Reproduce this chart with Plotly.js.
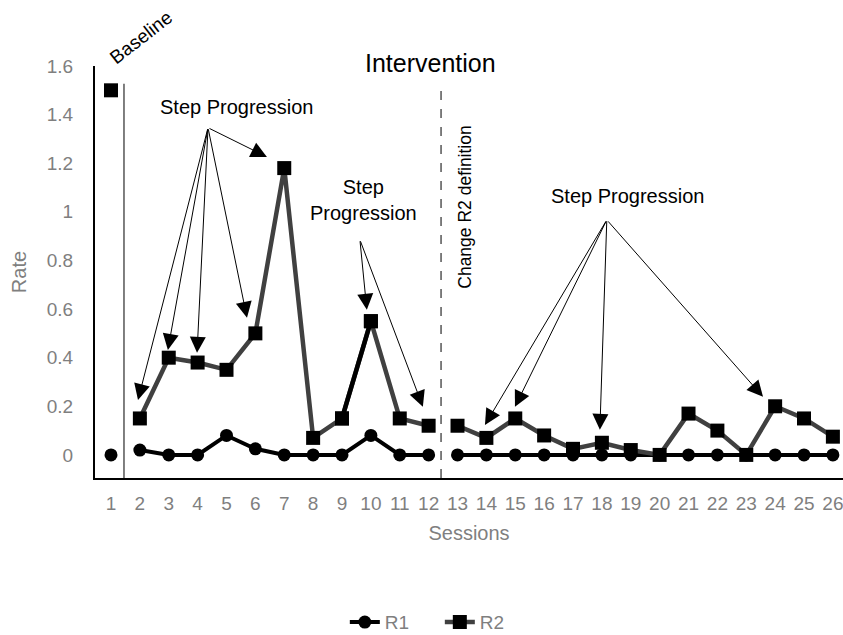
<!DOCTYPE html>
<html><head><meta charset="utf-8">
<script src="https://cdn.plot.ly/plotly-3.0.1.min.js"></script>
<style>html,body{margin:0;padding:0;background:#fff}#chart{width:843px;height:635px}</style>
</head><body><div id="chart"></div>
<script>
const sessions = [1,2,3,4,5,6,7,8,9,10,11,12,13,14,15,16,17,18,19,20,21,22,23,24,25,26];
const R1 = [0,0.02,0,0,0.08,0.025,0,0,0,0.08,0,0,0,0,0,0,0,0,0,0,0,0,0,0,0,0];
const R2 = [1.5,0.15,0.40,0.38,0.35,0.50,1.18,0.07,0.15,0.55,0.15,0.12,0.12,0.07,0.15,0.08,0.025,0.05,0.02,0,0.17,0.10,0,0.20,0.15,0.075];
// phases: index ranges [start, end)
const phases = [[0,1],[1,12],[12,26]];
const phaseLines = [1.45, 12.43];
const tickLabels = sessions.map(String);
const yTicks = [0,0.2,0.4,0.6,0.8,1,1.2,1.4,1.6];
const yTickLabels = ['0','0.2','0.4','0.6','0.8','1','1.2','1.4','1.6'];

// arrow annotations: [tailX, tailY, tipX, tipY]
const arrows = [
  [4.36,1.346,1.935,0.226],[4.36,1.346,2.97,0.432],[4.36,1.346,3.98,0.42],
  [4.36,1.346,5.71,0.564],[4.36,1.346,6.40,1.226],
  [9.62,0.885,9.86,0.597],[9.62,0.885,11.80,0.198],
  [18.17,0.967,13.95,0.123],[18.17,0.967,14.99,0.198],[18.17,0.967,17.93,0.103],[18.17,0.967,23.58,0.239]
];

const traces = [];
phases.forEach((p,i)=>{
  traces.push({x:sessions.slice(p[0],p[1]), y:R1.slice(p[0],p[1]), mode:'lines+markers', name:'R1',
    legendgroup:'R1', showlegend:i===0, line:{color:'#000',width:4},
    marker:{symbol:'circle',size:13,color:'#000'}});
});
phases.forEach((p,i)=>{
  traces.push({x:sessions.slice(p[0],p[1]), y:R2.slice(p[0],p[1]), mode:'lines+markers', name:'R2',
    legendgroup:'R2', showlegend:i===0, line:{color:'#404040',width:4.5},
    marker:{symbol:'square',size:14,color:'#000'}});
});
// black segment between sessions 9 and 10
traces.push({x:sessions.slice(8,10), y:R2.slice(8,10), mode:'lines+markers', showlegend:false,
  line:{color:'#000',width:4.5}, marker:{symbol:'square',size:14,color:'#000'}, hoverinfo:'skip'});

const F = 'Liberation Sans, Arial, sans-serif';
const annotations = arrows.map(a=>({x:a[2],y:a[3],ax:a[0],ay:a[1],axref:'x',ayref:'y',xref:'x',yref:'y',
  text:'',showarrow:true,arrowhead:2,arrowsize:3.2,arrowwidth:1,arrowcolor:'#000',standoff:0,startstandoff:0}));
annotations.push(
  {x:0.0615,y:1.068,xref:'paper',yref:'paper',xanchor:'center',yanchor:'middle',text:'Baseline',showarrow:false,textangle:-38,font:{family:F,size:19,color:'#000'}},
  {x:0.448,y:1.007,xref:'paper',yref:'paper',xanchor:'center',yanchor:'middle',text:'Intervention',showarrow:false,font:{family:F,size:25,color:'#000'}},
  {x:5.33,y:1.43,xref:'x',yref:'y',xanchor:'center',yanchor:'middle',text:'Step Progression',showarrow:false,font:{family:F,size:20,color:'#000'}},
  {x:9.76,y:1.049,xref:'x',yref:'y',xanchor:'center',yanchor:'middle',text:'Step<br>Progression',showarrow:false,font:{family:F,size:20,color:'#000'}},
  {x:13.26,y:1.017,xref:'x',yref:'y',xanchor:'center',yanchor:'middle',text:'Change R2 definition',showarrow:false,textangle:-90,font:{family:F,size:17.5,color:'#000'}},
  {x:18.87,y:1.066,xref:'x',yref:'y',xanchor:'center',yanchor:'middle',text:'Step Progression',showarrow:false,font:{family:F,size:20,color:'#000'}}
);

const yMin = -0.095;
const shapes = [
  {type:'line',xref:'x',yref:'y',x0:phaseLines[0],x1:phaseLines[0],y0:yMin,y1:1.527,line:{color:'#000',width:1}},
  {type:'line',xref:'x',yref:'y',x0:phaseLines[1],x1:phaseLines[1],y0:yMin,y1:1.51,line:{color:'#555',width:1.5,dash:'dash'}}
];

const layout = {
  width:843,height:635,paper_bgcolor:'#fff',plot_bgcolor:'#fff',
  margin:{l:95,r:0,t:66,b:157,autoexpand:false},
  showlegend:true,
  legend:{orientation:'h',x:0.461,xanchor:'center',y:-0.350,yanchor:'middle',entrywidth:50,font:{family:F,size:19,color:'#7f7f7f'},traceorder:'normal'},
  xaxis:{range:[0.446,26.35],tickmode:'array',tickvals:sessions,ticktext:tickLabels,showgrid:false,zeroline:false,
    showline:true,linecolor:'#000',linewidth:2,ticks:'',ticklabelstandoff:7,ticklabeloverflow:'allow',tickfont:{family:F,size:19,color:'#7f7f7f'},
    title:{text:'Sessions',font:{family:F,size:20,color:'#7f7f7f'},standoff:13}},
  yaxis:{range:[yMin,1.6],tickmode:'array',tickvals:yTicks,ticktext:yTickLabels,showgrid:false,zeroline:false,
    showline:true,linecolor:'#000',linewidth:2,ticks:'',ticklabelstandoff:16,tickfont:{family:F,size:19,color:'#7f7f7f'},
    title:{text:'Rate',font:{family:F,size:20,color:'#7f7f7f'},standoff:15}},
  annotations:annotations,shapes:shapes
};
Plotly.newPlot('chart', traces, layout, {displayModeBar:false, staticPlot:true});
</script></body></html>
